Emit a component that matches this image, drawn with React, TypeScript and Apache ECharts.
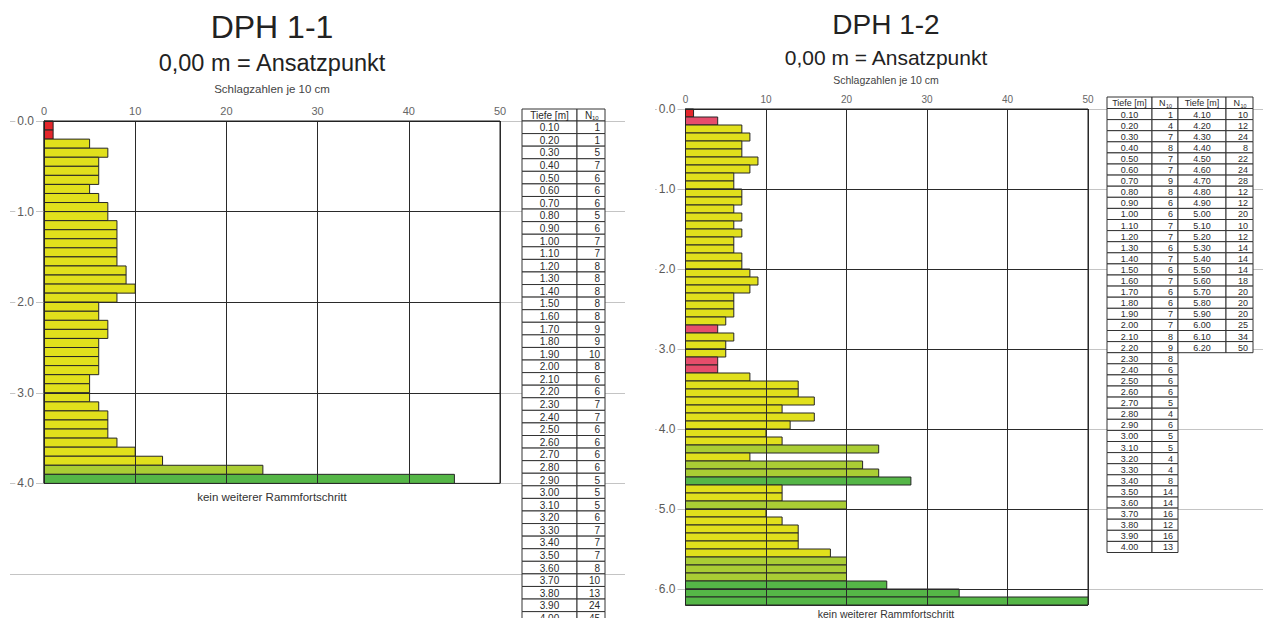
import React, { useEffect, useRef } from "react";
import * as echarts from "echarts";

const FONT = '"Liberation Sans", Arial, Helvetica, sans-serif';

// Blow counts N10 per 10 cm of penetration, first value = 0.00-0.10 m
const dph11Blows = [
  1, 1, 5, 7, 6, 6, 6, 5, 6, 7,
  7, 8, 8, 8, 8, 8, 9, 9, 10, 8,
  6, 6, 7, 7, 6, 6, 6, 6, 5, 5,
  5, 6, 7, 7, 7, 8, 10, 13, 24, 45,
];
const dph12Blows = [
  1, 4, 7, 8, 7, 7, 9, 8, 6, 6,
  7, 7, 6, 7, 6, 7, 6, 6, 7, 7,
  8, 9, 8, 6, 6, 6, 5, 4, 6, 5,
  5, 4, 4, 8, 14, 14, 16, 12, 16, 13,
  10, 12, 24, 8, 22, 24, 28, 12, 12, 20,
  10, 12, 14, 14, 14, 18, 20, 20, 20, 25,
  34, 50,
];

const dph11Title = "DPH 1-1";
const dph12Title = "DPH 1-2";
const originNote = "0,00 m = Ansatzpunkt";
const axisNote = "Schlagzahlen je 10 cm";
const endNote = "kein weiterer Rammfortschritt";
const depthHeader = "Tiefe [m]";

const DEPTH_STEP = 0.1;
const BLOW_MAX = 50;
const BLOW_STEP = 10;
const dph11DepthMax = 4;
const dph12DepthMax = 6.2;

function blowColor(n: number): string {
  if (n <= 1) return "#e3262b";
  if (n <= 4) return "#e64d6b";
  if (n < 20) return "#e1e01c";
  if (n < 25) return "#aacd34";
  return "#55b647";
}

function toIntervals(blows: number[]) {
  return blows.map((n, i) => [i / 10, (i + 1) / 10, n]);
}

function depthLabel(i: number) {
  return ((i + 1) * DEPTH_STEP).toFixed(2);
}

const renderBar = (_params: any, api: any) => {
  const top = api.value(0);
  const bottom = api.value(1);
  const n = api.value(2);
  const p0 = api.coord([0, top]);
  const p1 = api.coord([n, bottom]);
  return {
    type: "rect",
    shape: { x: p0[0], y: p0[1], width: p1[0] - p0[0], height: p1[1] - p0[1] },
    style: { fill: blowColor(n), stroke: "#262626", lineWidth: 1 },
  };
};

function text(
  t: string,
  x: number,
  y: number,
  size: number,
  align: string = "center",
  fill: string = "#2a2a2a"
) {
  return {
    type: "text",
    z: 20,
    silent: true,
    style: {
      text: t,
      x,
      y,
      fill,
      fontSize: size,
      fontFamily: FONT,
      textAlign: align,
      align,
      textVerticalAlign: "middle",
      verticalAlign: "middle",
    },
  };
}

function cell(x: number, y: number, w: number, h: number) {
  return {
    type: "rect",
    z: 15,
    silent: true,
    shape: { x, y, width: w, height: h },
    style: { fill: "#ffffff", stroke: "#333333", lineWidth: 1 },
  };
}

type Block = { start: number; values: number[]; depthW: number; countW: number };

function buildTable(
  x0: number,
  y0: number,
  headH: number,
  rowH: number,
  size: number,
  blocks: Block[]
) {
  const els: any[] = [];
  let bx = x0;
  blocks.forEach((b) => {
    const cx = bx + b.depthW;
    els.push(cell(bx, y0, b.depthW, headH));
    els.push(cell(cx, y0, b.countW, headH));
    els.push(text(depthHeader, bx + b.depthW / 2, y0 + headH / 2, size));
    els.push(text("N", cx + b.countW / 2 - 6, y0 + headH / 2, size, "left"));
    els.push(text("10", cx + b.countW / 2 + 1, y0 + headH / 2 + 3, size * 0.6, "left"));
    b.values.forEach((n, i) => {
      const y = y0 + headH + i * rowH;
      els.push(cell(bx, y, b.depthW, rowH));
      els.push(cell(cx, y, b.countW, rowH));
      els.push(text(depthLabel(b.start + i), bx + b.depthW / 2, y + rowH / 2 + 0.5, size));
      els.push(text(String(n), cx + b.countW - 5, y + rowH / 2 + 0.5, size, "right"));
    });
    bx = cx + b.countW;
  });
  return els;
}

const depthFormatter = (v: number) =>
  Math.abs(v - Math.round(v)) < 1e-6 ? v.toFixed(1) : "";

function plotXAxis(gridIndex: number, size: number) {
  return {
    gridIndex,
    type: "value",
    position: "top",
    min: 0,
    max: BLOW_MAX,
    interval: BLOW_STEP,
    z: 6,
    axisLine: { show: true, onZero: false, lineStyle: { color: "#222", width: 1 } },
    axisTick: { show: false },
    axisLabel: { color: "#666", fontSize: size, fontFamily: FONT, margin: 5 },
    splitLine: { show: true, lineStyle: { color: "#2a2a2a", width: 1 } },
  };
}

function plotYAxis(gridIndex: number, max: number) {
  return {
    gridIndex,
    type: "value",
    inverse: true,
    min: 0,
    max,
    interval: 1,
    z: 6,
    axisLine: { show: true, onZero: false, lineStyle: { color: "#222", width: 1 } },
    axisTick: { show: false },
    axisLabel: {
      color: "#5a5a5a",
      fontSize: 12,
      fontFamily: FONT,
      margin: 8,
      formatter: depthFormatter,
      backgroundColor: "#ffffff",
      padding: [0, 2],
    },
    splitLine: { show: true, lineStyle: { color: "#2a2a2a", width: 1 } },
  };
}

function guideYAxis(gridIndex: number, max: number) {
  return {
    gridIndex,
    type: "value",
    inverse: true,
    min: 0,
    max,
    interval: 1,
    z: 0,
    axisLine: { show: false },
    axisTick: { show: false },
    axisLabel: { show: false },
    splitLine: { show: true, lineStyle: { color: "#c4c4c4", width: 1 } },
  };
}

function hiddenXAxis(gridIndex: number) {
  return { gridIndex, type: "value", show: false, min: 0, max: 1, splitLine: { show: false } };
}

export default function App() {
  const ref = useRef<HTMLDivElement>(null);

  useEffect(() => {
    if (!ref.current) return;
    const chart = echarts.init(ref.current, undefined, { renderer: "svg" });

    const graphics: any[] = [
      text(dph11Title, 272, 27, 32, "center", "#222"),
      text(originNote, 272, 63, 23.5, "center", "#222"),
      text(axisNote, 272, 89, 11.5, "center", "#444"),
      text(endNote, 272, 497, 11.5, "center", "#333"),
      text(dph12Title, 886, 24, 28, "center", "#222"),
      text(originNote, 886, 57, 21, "center", "#222"),
      text(axisNote, 886, 80, 10.5, "center", "#444"),
      text(endNote, 886, 614, 10.5, "center", "#333"),
      ...buildTable(522, 109, 12, 12.58, 10, [
        { start: 0, values: dph11Blows, depthW: 55, countW: 28 },
      ]),
      ...buildTable(1107, 97, 11.5, 11.1, 9, [
        { start: 0, values: dph12Blows.slice(0, 40), depthW: 45, countW: 26 },
        { start: 40, values: dph12Blows.slice(40), depthW: 48, countW: 27 },
      ]),
    ];

    chart.setOption({
      animation: false,
      backgroundColor: "#ffffff",
      textStyle: { fontFamily: FONT },
      grid: [
        { left: 10, top: 121, width: 615, height: 453, outerBoundsMode: "none" },
        {
          left: 44,
          top: 121,
          width: 456,
          height: 362.4,
          show: true,
          borderColor: "#222",
          borderWidth: 1,
          outerBoundsMode: "none",
        },
        { left: 655, top: 109, width: 608, height: 480, outerBoundsMode: "none" },
        {
          left: 685.5,
          top: 109,
          width: 402.5,
          height: 496,
          show: true,
          borderColor: "#222",
          borderWidth: 1,
          outerBoundsMode: "none",
        },
      ],
      xAxis: [hiddenXAxis(0), plotXAxis(1, 11), hiddenXAxis(2), plotXAxis(3, 10)],
      yAxis: [
        guideYAxis(0, 5),
        plotYAxis(1, dph11DepthMax),
        guideYAxis(2, 6),
        plotYAxis(3, dph12DepthMax),
      ],
      series: [
        {
          type: "custom",
          name: dph11Title,
          xAxisIndex: 1,
          yAxisIndex: 1,
          dimensions: ["top", "bottom", "blows"],
          encode: { x: 2, y: [0, 1] },
          data: toIntervals(dph11Blows),
          renderItem: renderBar,
          z: 2,
        },
        {
          type: "custom",
          name: dph12Title,
          xAxisIndex: 3,
          yAxisIndex: 3,
          dimensions: ["top", "bottom", "blows"],
          encode: { x: 2, y: [0, 1] },
          data: toIntervals(dph12Blows),
          renderItem: renderBar,
          z: 2,
        },
      ],
      graphic: graphics,
    });

    return () => chart.dispose();
  }, []);

  return (
    <div
      ref={ref}
      style={{ position: "fixed", left: 0, top: 0, width: "1263px", height: "618px" }}
    />
  );
}
